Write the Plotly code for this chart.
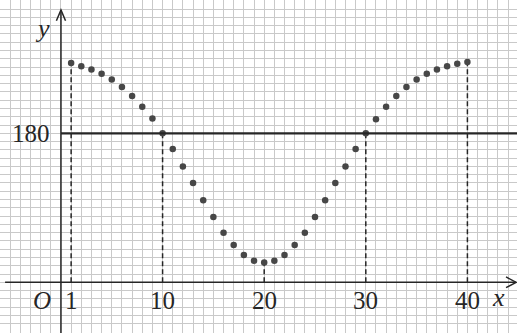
import plotly.graph_objects as go

# Observed values for days 1..40
days = list(range(1, 41))
values = [265, 261, 257, 252, 245, 236, 225, 212, 198, 180,
          161, 140, 120, 99, 79, 60, 45, 33, 26, 24,
          26, 33, 45, 60, 79, 99, 120, 140, 161, 180,
          197, 212, 225, 236, 245, 252, 257, 261, 264, 266]

marked_days = [1, 10, 20, 30, 40]
x_tick_labels = ["1", "10", "20", "30", "40"]
level = 180
level_label = "180"

X_RANGE = [-6.0, 44.88]
Y_RANGE = [-61.2, 341.0]

INK = "#262626"
SERIF = "Liberation Serif, Times New Roman, serif"

fig = go.Figure()

# dashed drops from selected points to the x-axis
for d in marked_days:
    v = values[days.index(d)]
    fig.add_trace(go.Scatter(
        x=[d, d], y=[0, v], mode="lines",
        line=dict(color=INK, width=1.5, dash="5px,3px"),
        hoverinfo="skip", showlegend=False,
    ))

# reference level line
fig.add_shape(type="line", x0=0, x1=X_RANGE[1], y0=level, y1=level,
              line=dict(color=INK, width=2.2), layer="above")

# axes with open arrow heads
x_tip = 44.8
y_tip = 329.0
fig.add_shape(type="line", x0=X_RANGE[0] + 0.5, x1=x_tip, y0=0, y1=0,
              line=dict(color=INK, width=1.5))
fig.add_shape(type="line", x0=0, x1=0, y0=Y_RANGE[0], y1=y_tip,
              line=dict(color=INK, width=1.5))
fig.add_shape(type="path",
              path=f"M {x_tip-1.0},{6.5} L {x_tip},0 L {x_tip-1.0},{-6.5}",
              line=dict(color=INK, width=1.5))
fig.add_shape(type="path",
              path=f"M {-0.45},{y_tip-13} L 0,{y_tip} L {0.45},{y_tip-13}",
              line=dict(color=INK, width=1.5))

# the points
fig.add_trace(go.Scatter(
    x=days, y=values, mode="markers",
    marker=dict(color="#474747", size=6.5),
    showlegend=False,
))

ann = []
for d, t in zip(marked_days, x_tick_labels):
    ann.append(dict(x=d, y=-22, text=t, showarrow=False,
                    font=dict(family=SERIF, size=25, color=INK)))
ann.append(dict(x=-1.9, y=-22, text="<i>O</i>", showarrow=False,
                font=dict(family=SERIF, size=25, color=INK)))
ann.append(dict(x=43.1, y=-18, text="<i>x</i>", showarrow=False,
                font=dict(family=SERIF, size=26, color=INK)))
ann.append(dict(x=-1.8, y=307, text="<i>y</i>", showarrow=False,
                font=dict(family=SERIF, size=26, color=INK)))
ann.append(dict(x=-0.9, y=level, text=level_label, showarrow=False,
                xanchor="right",
                font=dict(family=SERIF, size=25, color=INK)))

grid = dict(showgrid=True, gridcolor="#c9c9c9", gridwidth=1.3,
            zeroline=False, showticklabels=False, ticks="",
            showline=False, fixedrange=True)

fig.update_layout(
    width=517, height=333,
    margin=dict(l=0, r=0, t=0, b=0),
    paper_bgcolor="white", plot_bgcolor="white",
    xaxis=dict(range=X_RANGE, tick0=0, dtick=1, **grid),
    yaxis=dict(range=Y_RANGE, tick0=0, dtick=10, **grid),
    annotations=ann,
    showlegend=False,
)

fig.write_html("out.html")
